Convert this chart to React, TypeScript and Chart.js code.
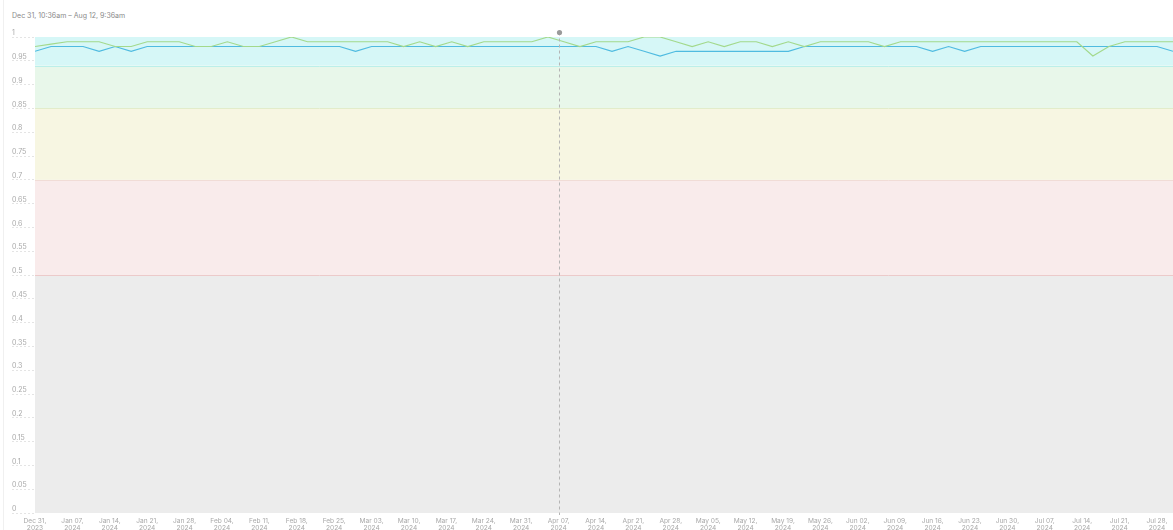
import React, { useEffect, useRef } from "react";
import { Chart, registerables } from "chart.js";

Chart.register(...registerables);

const TITLE = "Dec 31, 10:36am – Aug 12, 9:36am";

// one point every 3 days, starting Dec 31, 2023
const STEP_DAYS = 3;

const weekLabels: string[][] = [
  ["Dec 31,", "2023"], ["Jan 07,", "2024"], ["Jan 14,", "2024"], ["Jan 21,", "2024"],
  ["Jan 28,", "2024"], ["Feb 04,", "2024"], ["Feb 11,", "2024"], ["Feb 18,", "2024"],
  ["Feb 25,", "2024"], ["Mar 03,", "2024"], ["Mar 10,", "2024"], ["Mar 17,", "2024"],
  ["Mar 24,", "2024"], ["Mar 31,", "2024"], ["Apr 07,", "2024"], ["Apr 14,", "2024"],
  ["Apr 21,", "2024"], ["Apr 28,", "2024"], ["May 05,", "2024"], ["May 12,", "2024"],
  ["May 19,", "2024"], ["May 26,", "2024"], ["Jun 02,", "2024"], ["Jun 09,", "2024"],
  ["Jun 16,", "2024"], ["Jun 23,", "2024"], ["Jun 30,", "2024"], ["Jul 07,", "2024"],
  ["Jul 14,", "2024"], ["Jul 21,", "2024"], ["Jul 28,", "2024"],
];
const weekTickDays: number[] = weekLabels.map((_, i) => i * 7);

const yTickValues: number[] = [
  0, 0.05, 0.1, 0.15, 0.2, 0.25, 0.3, 0.35, 0.4, 0.45, 0.5,
  0.55, 0.6, 0.65, 0.7, 0.75, 0.8, 0.85, 0.9, 0.95, 1,
];

const seriesBlue: number[] = [
  0.97, 0.98, 0.98, 0.98, 0.97, 0.98, 0.97,
  0.98, 0.98, 0.98, 0.98, 0.98, 0.98, 0.98, 0.98, 0.98, 0.98, 0.98, 0.98, 0.98,
  0.97,
  0.98, 0.98, 0.98, 0.98, 0.98, 0.98, 0.98, 0.98, 0.98, 0.98, 0.98, 0.98, 0.98, 0.98, 0.98,
  0.97, 0.98, 0.97, 0.96,
  0.97, 0.97, 0.97, 0.97, 0.97, 0.97, 0.97, 0.97,
  0.98, 0.98, 0.98, 0.98, 0.98, 0.98, 0.98, 0.98,
  0.97, 0.98, 0.97,
  0.98, 0.98, 0.98, 0.98, 0.98, 0.98, 0.98, 0.98, 0.98, 0.98, 0.98, 0.98,
  0.97,
];

const seriesGreen: number[] = [
  0.98, 0.985, 0.99, 0.99, 0.99, 0.98, 0.98, 0.99, 0.99, 0.99,
  0.98, 0.98, 0.99, 0.98, 0.98, 0.99, 1.0, 0.99, 0.99, 0.99,
  0.99, 0.99, 0.99, 0.98, 0.99, 0.98, 0.99, 0.98, 0.99, 0.99,
  0.99, 0.99, 1.0, 0.99, 0.98, 0.99, 0.99, 0.99, 1.0, 1.0,
  0.99, 0.98, 0.99, 0.98, 0.99, 0.99, 0.98, 0.99, 0.98, 0.99,
  0.99, 0.99, 0.99, 0.98, 0.99,
  0.99, 0.99, 0.99, 0.99, 0.99, 0.99, 0.99, 0.99, 0.99, 0.99, 0.99,
  0.96, 0.98,
  0.99, 0.99, 0.99, 0.99,
];

// threshold bands, bottom to top
const bandEdges: number[] = [0, 0.5, 0.7, 0.85, 0.94, 1];
const bandFills: string[] = ["#ececec", "#f9ebeb", "#f7f6e2", "#e8f7ea", "#d6f7f7"];
const bandLines: string[] = ["", "#eccaca", "#f1dcd6", "#e2ecca", "#bcefe9"];

const hoverDay = 98; // Apr 07 crosshair

const X_MAX = (seriesBlue.length - 1) * STEP_DAYS;

const bandsPlugin = {
  id: "bands",
  beforeDatasetsDraw(chart: any) {
    const { ctx, chartArea: a, scales } = chart;
    const y = scales.y;
    ctx.save();
    for (let k = 0; k < bandEdges.length - 1; k++) {
      const top = y.getPixelForValue(bandEdges[k + 1]);
      const bot = y.getPixelForValue(bandEdges[k]);
      ctx.fillStyle = bandFills[k];
      ctx.fillRect(a.left, top, a.right - a.left, bot - top);
    }
    for (let k = 1; k < bandEdges.length - 1; k++) {
      const py = Math.round(y.getPixelForValue(bandEdges[k])) + 0.5;
      ctx.strokeStyle = bandLines[k];
      ctx.lineWidth = 1;
      ctx.beginPath();
      ctx.moveTo(a.left, py);
      ctx.lineTo(a.right, py);
      ctx.stroke();
    }
    ctx.restore();
  },
};

const crosshairPlugin = {
  id: "crosshair",
  afterDatasetsDraw(chart: any) {
    const { ctx, chartArea: a, scales } = chart;
    const px = Math.round(scales.x.getPixelForValue(hoverDay)) + 0.5;
    const dotY = a.top - 4.5;
    ctx.save();
    ctx.strokeStyle = "#b4b4b4";
    ctx.lineWidth = 1;
    ctx.setLineDash([3, 3]);
    ctx.beginPath();
    ctx.moveTo(px, dotY);
    ctx.lineTo(px, a.bottom + 2);
    ctx.stroke();
    ctx.setLineDash([]);
    ctx.fillStyle = "#9a9a9a";
    ctx.beginPath();
    ctx.arc(px, dotY, 2.6, 0, Math.PI * 2);
    ctx.fill();
    ctx.restore();
  },
};

export default function App() {
  const ref = useRef<HTMLCanvasElement>(null);

  useEffect(() => {
    document.body.style.margin = "0";
    const canvas = ref.current;
    if (!canvas) return;
    const chart = new Chart(canvas, {
      type: "line",
      data: {
        datasets: [
          {
            label: "green",
            data: seriesGreen.map((v, i) => ({ x: i * STEP_DAYS, y: v })),
            borderColor: "#a3d98c",
            borderWidth: 1.2,
            pointRadius: 0,
            tension: 0,
            fill: false,
          },
          {
            label: "blue",
            data: seriesBlue.map((v, i) => ({ x: i * STEP_DAYS, y: v })),
            borderColor: "#4fbbe0",
            borderWidth: 1.2,
            pointRadius: 0,
            tension: 0,
            fill: false,
          },
        ],
      },
      options: {
        responsive: false,
        animation: false,
        devicePixelRatio: 1,
        layout: { padding: { left: 12, top: 37, right: 0, bottom: 0 } },
        plugins: {
          legend: { display: false },
          tooltip: { enabled: false },
          title: { display: false },
        },
        scales: {
          x: {
            type: "linear",
            min: 0,
            max: X_MAX,
            grid: { display: false, drawTicks: false },
            border: { display: false },
            afterBuildTicks: (s: any) => {
              s.ticks = weekTickDays.map((d) => ({ value: d }));
            },
            afterFit: (s: any) => {
              s.paddingLeft = 0;
              s.paddingRight = 0;
              s.height = 17;
            },
            ticks: {
              autoSkip: false,
              maxRotation: 0,
              minRotation: 0,
              padding: 5,
              color: "#a8a8a8",
              font: { family: "Inter", size: 6.6, lineHeight: 1 },
              callback: (_v: any, i: number) => weekLabels[i],
            },
          },
          y: {
            type: "linear",
            min: 0,
            max: 1,
            afterBuildTicks: (s: any) => {
              s.ticks = yTickValues.map((v) => ({ value: v }));
            },
            afterFit: (s: any) => {
              s.width = 23;
            },
            border: { display: false },
            grid: {
              drawOnChartArea: false,
              drawTicks: true,
              tickLength: 23,
              tickColor: "#e4e4e4",
              tickBorderDash: [2, 2],
              color: "#e4e4e4",
            },
            ticks: {
              crossAlign: "far",
              labelOffset: -4,
              padding: 0,
              color: "#a8a8a8",
              font: { family: "Inter", size: 7 },
              callback: (v: any) => String(Math.round(Number(v) * 100) / 100),
            },
          },
        },
      } as any,
      plugins: [bandsPlugin, crosshairPlugin],
    });
    return () => chart.destroy();
  }, []);

  return (
    <div
      style={{
        position: "relative",
        width: 1173,
        height: 530,
        background: "#fff",
        fontFamily: "Inter, sans-serif",
        overflow: "hidden",
      }}
    >
      <div
        style={{
          position: "absolute",
          left: 3,
          top: 0,
          width: 1,
          height: 530,
          background: "#f0f0f0",
        }}
      />
      <div
        style={{
          position: "absolute",
          left: 12,
          top: 11,
          fontSize: 7,
          lineHeight: "9px",
          color: "#8a8a8a",
          whiteSpace: "nowrap",
        }}
      >
        {TITLE}
      </div>
      <canvas
        ref={ref}
        width={1173}
        height={530}
        style={{ position: "absolute", left: 0, top: 0, width: 1173, height: 530 }}
      />
    </div>
  );
}
